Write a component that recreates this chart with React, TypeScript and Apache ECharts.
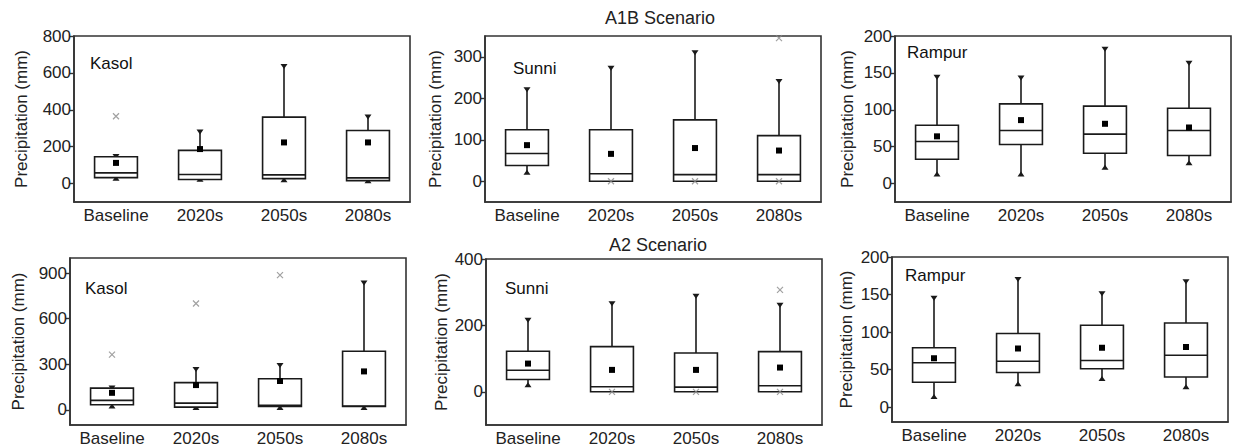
import React, { useEffect, useRef } from "react";
import * as echarts from "echarts";

const categories = ["Baseline", "2020s", "2050s", "2080s"];
const yAxisName = "Precipitation (mm)";

// each row: [min, q1, median, q3, max]
const kasolA1BBox = [[20, 32, 58, 145, 155], [15, 22, 49, 180, 288], [12, 27, 47, 360, 643], [7, 16, 31, 288, 369]];
const kasolA1BMean = [112, 187, 223, 223];
const kasolA1BOutliers = [[0, 365]];
const kasolA1BTicks = [0, 200, 400, 600, 800];

const sunniA1BBox = [[18, 38, 67, 124, 224], [0, 0, 18, 124, 276], [0, 0, 16, 148, 313], [0, 0, 16, 110, 244]];
const sunniA1BMean = [87, 66, 80, 74];
const sunniA1BOutliers = [[1, 0], [2, 0], [3, 0], [3, 345]];
const sunniA1BTicks = [0, 100, 200, 300];

const rampurA1BBox = [[11, 33, 57, 79, 146], [11, 53, 72, 108, 145], [20, 41, 67, 105, 184], [26, 38, 72, 102, 165]];
const rampurA1BMean = [64, 86, 81, 76];
const rampurA1BOutliers: number[][] = [];
const rampurA1BTicks = [0, 50, 100, 150, 200];

const kasolA2Box = [[15, 33, 62, 143, 154], [5, 18, 44, 179, 276], [5, 22, 30, 205, 302], [5, 22, 25, 386, 845]];
const kasolA2Mean = [112, 163, 190, 253];
const kasolA2Outliers = [[0, 364], [1, 700], [2, 887]];
const kasolA2Ticks = [0, 300, 600, 900];

const sunniA2Box = [[17, 37, 65, 122, 220], [0, 0, 15, 136, 270], [0, 0, 14, 117, 292], [0, 0, 18, 121, 265]];
const sunniA2Mean = [85, 66, 66, 73];
const sunniA2Outliers = [[1, 0], [2, 0], [3, 0], [3, 307]];
const sunniA2Ticks = [0, 200, 400];

const rampurA2Box = [[12, 33, 59, 79, 147], [29, 46, 61, 98, 172], [36, 51, 62, 109, 153], [25, 40, 69, 112, 169]];
const rampurA2Mean = [65, 78, 79, 80];
const rampurA2Outliers: number[][] = [];
const rampurA2Ticks = [0, 50, 100, 150, 200];

const FONT = "'Liberation Sans', Arial, sans-serif";
const INK = "#1a1a1a";

const panels = [
  { station: "Kasol", box: kasolA1BBox, mean: kasolA1BMean, out: kasolA1BOutliers, ticks: kasolA1BTicks, min: -100, max: 800,
    grid: { left: 74, top: 36, width: 336, height: 166 }, nameGap: 44, label: [90, 63] },
  { station: "Sunni", box: sunniA1BBox, mean: sunniA1BMean, out: sunniA1BOutliers, ticks: sunniA1BTicks, min: -50, max: 350,
    grid: { left: 485, top: 36, width: 336, height: 166 }, nameGap: 41, label: [513, 68] },
  { station: "Rampur", box: rampurA1BBox, mean: rampurA1BMean, out: rampurA1BOutliers, ticks: rampurA1BTicks, min: -25, max: 200,
    grid: { left: 895, top: 36, width: 336, height: 166 }, nameGap: 39, label: [907, 52] },
  { station: "Kasol", box: kasolA2Box, mean: kasolA2Mean, out: kasolA2Outliers, ticks: kasolA2Ticks, min: -100, max: 1000,
    grid: { left: 70, top: 258, width: 336, height: 167 }, nameGap: 43, label: [85, 288] },
  { station: "Sunni", box: sunniA2Box, mean: sunniA2Mean, out: sunniA2Outliers, ticks: sunniA2Ticks, min: -100, max: 400,
    grid: { left: 486, top: 259, width: 336, height: 168 }, nameGap: 36, label: [505, 288] },
  { station: "Rampur", box: rampurA2Box, mean: rampurA2Mean, out: rampurA2Outliers, ticks: rampurA2Ticks, min: -20, max: 200,
    grid: { left: 892, top: 257, width: 336, height: 165 }, nameGap: 37, label: [905, 275] },
];

const renderBox = (params: any, api: any) => {
  const idx = api.value(0);
  const mn = api.value(1), q1 = api.value(2), md = api.value(3), q3 = api.value(4), mx = api.value(5), mean = api.value(6);
  const x = api.coord([idx, 0])[0];
  const y = (v: number) => api.coord([idx, v])[1];
  const bw = api.size([1, 0])[0] * 0.51;
  const ls = { stroke: INK, lineWidth: 1.6, fill: "none" };
  const children: any[] = [];
  if (mx > q3) {
    children.push({ type: "line", shape: { x1: x, y1: y(q3), x2: x, y2: y(mx) }, style: ls });
    children.push({ type: "polygon", shape: { points: [[x - 3.5, y(mx) - 1], [x + 3.5, y(mx) - 1], [x, y(mx) + 4]] }, style: { fill: INK } });
  }
  if (mn < q1) {
    children.push({ type: "line", shape: { x1: x, y1: y(q1), x2: x, y2: y(mn) }, style: ls });
    children.push({ type: "polygon", shape: { points: [[x - 3.5, y(mn) + 1], [x + 3.5, y(mn) + 1], [x, y(mn) - 4]] }, style: { fill: INK } });
  }
  children.push({ type: "rect", shape: { x: x - bw / 2, y: y(q3), width: bw, height: y(q1) - y(q3) }, style: { ...ls, fill: "#fff" } });
  children.push({ type: "line", shape: { x1: x - bw / 2, y1: y(md), x2: x + bw / 2, y2: y(md) }, style: ls });
  children.push({ type: "rect", shape: { x: x - 3, y: y(mean) - 3, width: 6, height: 6 }, style: { fill: "#000" } });
  return { type: "group", children };
};

export default function App() {
  const ref = useRef<HTMLDivElement>(null);
  useEffect(() => {
    if (!ref.current) return;
    const chart = echarts.init(ref.current, undefined, { renderer: "svg" });
    const grids: any[] = [];
    const xAxes: any[] = [];
    const yAxes: any[] = [];
    const series: any[] = [];
    const graphics: any[] = [];
    panels.forEach((p, i) => {
      grids.push({ ...p.grid, show: true, borderColor: "#333", borderWidth: 1.6, backgroundColor: "#fff", containLabel: false });
      xAxes.push({
        type: "category", gridIndex: i, data: categories,
        axisLine: { onZero: false, lineStyle: { color: "#333", width: 1.6 } },
        axisTick: { alignWithLabel: true, interval: 0, length: 4, lineStyle: { color: "#333", width: 1.4 } },
        axisLabel: { interval: 0, fontSize: 17, color: "#222", margin: 5, fontFamily: FONT },
      });
      yAxes.push({
        type: "value", gridIndex: i, min: p.min, max: p.max,
        splitLine: { show: false },
        axisLine: { show: true, onZero: false, lineStyle: { color: "#333", width: 1.6 } },
        axisTick: { show: true, length: 4, customValues: p.ticks, lineStyle: { color: "#333", width: 1.4 } },
        axisLabel: { customValues: p.ticks, fontSize: 17, color: "#222", margin: 3, fontFamily: FONT },
        name: yAxisName, nameLocation: "middle", nameGap: p.nameGap,
        nameTextStyle: { fontSize: 17, color: "#222", fontFamily: FONT },
      });
      series.push({
        type: "custom", xAxisIndex: i, yAxisIndex: i,
        data: p.box.map((b, k) => [k, ...b, p.mean[k]]),
        encode: { x: 0, y: [1, 2, 3, 4, 5] },
        renderItem: renderBox,
      });
      series.push({
        type: "scatter", xAxisIndex: i, yAxisIndex: i, data: p.out,
        symbol: "path://M0,0L10,10M10,0L0,10", symbolSize: 6,
        itemStyle: { color: "none", borderColor: "#8a8a8a", borderWidth: 1.2 },
        z: 3,
      });
      graphics.push({
        type: "text", x: p.label[0], y: p.label[1], z: 10,
        style: { text: p.station, fontSize: 17, fill: "#111", fontFamily: FONT, textVerticalAlign: "middle" },
      });
    });
    graphics.push({ type: "text", x: 660, y: 18, style: { text: "A1B Scenario", fontSize: 18, fill: "#222", fontFamily: FONT, textAlign: "center", textVerticalAlign: "middle" } });
    graphics.push({ type: "text", x: 658, y: 245, style: { text: "A2 Scenario", fontSize: 18, fill: "#222", fontFamily: FONT, textAlign: "center", textVerticalAlign: "middle" } });
    chart.setOption({
      animation: false,
      backgroundColor: "#fff",
      textStyle: { fontFamily: FONT },
      grid: grids,
      xAxis: xAxes,
      yAxis: yAxes,
      series,
      graphic: graphics,
    });
    return () => chart.dispose();
  }, []);
  return <div ref={ref} style={{ position: "absolute", left: 0, top: 0, width: 1236, height: 447 }} />;
}
